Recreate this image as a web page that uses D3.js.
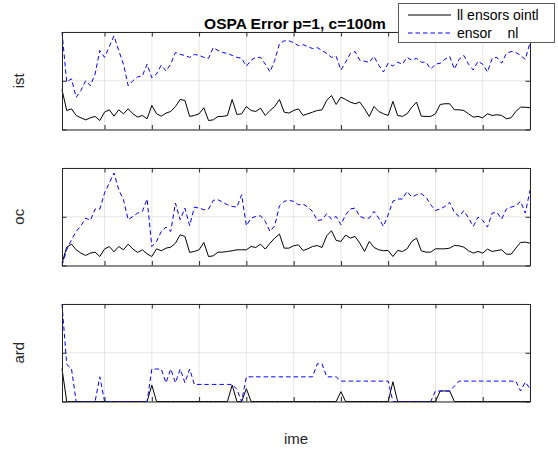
<!DOCTYPE html>
<html><head><meta charset="utf-8">
<script src="https://cdn.jsdelivr.net/npm/d3@7"></script>
<style>
html,body{margin:0;padding:0;background:#fff;}
text{font-family:"Liberation Sans",Arial,Helvetica,sans-serif;}
</style></head>
<body>
<svg id="chart" width="558" height="450"></svg>
<script>
const titleText = "OSPA Error p=1, c=100m";
const xLabel = "ime";
const panelLabels = ["ist", "oc", "ard"];
const seriesNames = ["ll ensors ointl", "ensor\u00a0\u00a0\u00a0\u00a0nl"];
const xTicks = [10, 20, 30, 40, 50, 60, 70, 80, 90, 100];
const yTicks = [0, 50, 100];
const timeSteps = d3.range(1, 101);

const distAll = [40.8,19.5,21.2,14.4,12.0,9.9,12.0,13.4,9.2,17.8,20.2,13.7,20.2,16.1,21.2,16.1,12.7,14.4,11.0,24.7,16.1,13.7,16.8,18.5,23.6,30.8,29.8,13.4,14.4,16.1,22.3,9.2,9.9,13.4,13.4,14.4,30.8,15.4,16.1,23.6,19.5,18.5,21.9,14.4,19.5,23.6,30.8,17.8,16.8,19.5,21.2,14.4,16.1,17.8,19.5,20.2,29.8,34.9,25.7,33.2,30.8,28.1,26.4,28.1,21.2,13.4,23.6,18.5,16.1,14.4,28.8,14.4,13.4,16.1,22.9,28.1,13.7,13.4,13.4,16.1,25.7,26.4,26.4,20.2,20.2,19.5,16.1,12.7,13.4,12.0,16.1,14.4,15.1,14.4,11.0,12.0,18.5,22.9,22.9,22.3];
const distOne = [100,48.6,52,33,40,50,45,57,81,74,85,96,81,67,45,50,54,55,67,53,57,66,60,67,79,77,76,74,77,76,74,73,84,81,79,78,76,74,73,65,71,74,74,67,59,71,88,91,91,89,86,87,85,83,84,81,78,74,75,61,69,78,80,71,70,69,75,66,59,68,65,69,67,74,71,73,69,69,62,67,68,72,75,62,72,76,67,61,70,67,59,73,74,68,78,80,79,76,72,89];
const locAll = [2.4,18.8,21.9,16.1,12.7,10.3,12.7,13.7,9.2,16.8,19.5,14.0,19.5,16.1,21.9,16.8,13.4,16.1,12.0,9.2,17.1,15.1,17.8,18.8,22.9,31.5,29.8,13.4,14.4,16.1,23.6,9.2,9.9,13.7,13.7,14.4,15.1,16.1,16.1,16.1,19.5,18.5,21.9,16.8,22.9,28.1,32.2,17.8,17.8,20.2,21.2,15.4,17.1,19.5,20.5,18.5,30.5,35.6,25.7,24.7,31.2,28.1,29.8,22.9,14.4,24.7,18.5,16.1,15.1,15.4,9.2,15.4,14.4,17.1,24.7,28.1,15.1,13.7,13.7,17.1,17.1,17.1,17.8,20.5,20.2,18.8,15.1,12.7,14.4,12.7,16.8,14.4,15.4,16.1,11.6,11.6,17.8,23.6,24.0,22.9];
const locOne = [0,16.1,26.4,34.9,40.8,48.6,46.2,57.9,57.9,74.3,84.6,94.9,77.7,67.5,46.9,50.3,53.8,55.5,68.2,19.5,24.7,34.9,39.4,34.9,64.0,46.9,58.9,40.8,59.9,58.9,57.2,57.9,66.8,67.5,64.7,62.3,60.6,59.9,72.6,40.8,48.6,50.3,51.0,45.2,34.9,40.8,61.3,65.8,66.8,65.8,62.3,63.0,59.9,55.5,46.2,46.9,53.1,47.6,50.3,41.8,52.1,57.9,58.9,50.3,48.6,48.6,55.5,48.6,40.1,52.1,65.8,68.2,68.2,76.0,70.2,72.6,73.6,70.2,62.3,56.5,57.9,60.6,64.7,54.5,50.3,56.2,48.6,40.1,49.7,46.2,39.4,53.8,54.5,47.6,57.9,59.9,61.3,65.8,53.8,77.1];
const cardAll = [33.7,0,0,0,0,0,0,0,0,0,0,0,0,0,0,0,0,0,0,16.8,0,0,0,0,0,0,0,0,0,0,0,0,0,0,0,0,16.8,0,0,13.1,0,0,0,0,0,0,0,0,0,0,0,0,0,0,0,0,0,0,0,10.1,0,0,0,0,0,0,0,0,0,0,20.2,0,0,0,0,0,0,0,0,0,10.8,10.8,10.8,0,0,0,0,0,0,0,0,0,0,0,0,0,0,0,0,0];
const cardOne = [100,38,33.7,0,0,0,0,0,25.3,0,0,0,0,0,0,0,0,0,0,33.3,33.3,33.3,19.2,33.3,19.2,33.3,19.2,33.3,17.5,17.5,17.5,17.5,17.5,17.5,17.5,17.5,17.5,12.5,0,25.3,25.3,25.3,25.3,25.3,25.3,25.3,25.3,25.3,25.3,25.3,25.3,25.3,25.3,25.3,38.7,38.7,25.3,25.3,25.3,20.9,20.9,20.9,20.9,20.9,20.9,20.9,20.9,20.9,20.9,20.9,0,0,0,0,0,0,0,0,0,10.8,10.8,10.8,10.8,15.8,20.9,20.9,20.9,20.9,20.9,20.9,20.9,20.9,20.9,20.9,20.9,20.9,20.9,10.8,19.9,13.1];

const panels = [
  {label: panelLabels[0], all: distAll, one: distOne, top: 32},
  {label: panelLabels[1], all: locAll, one: locOne, top: 168},
  {label: panelLabels[2], all: cardAll, one: cardOne, top: 304}
];

const svg = d3.select("#chart");
const left = 62, right = 530, ph = 97.5;
const axColor = "#262626";
const x = d3.scaleLinear().domain([1, 100]).range([left, right]);

panels.forEach(p => {
  const y = d3.scaleLinear().domain([0, 100]).range([p.top + ph, p.top]);
  const g = svg.append("g");
  g.append("g").selectAll("line").data(xTicks).join("line")
    .attr("x1", d => x(d)).attr("x2", d => x(d))
    .attr("y1", p.top).attr("y2", p.top + ph)
    .attr("stroke", "#e6e6e6").attr("stroke-width", 1);
  g.append("g").selectAll("line").data(yTicks).join("line")
    .attr("x1", left).attr("x2", right)
    .attr("y1", d => y(d)).attr("y2", d => y(d))
    .attr("stroke", "#e6e6e6").attr("stroke-width", 1);

  const line = d3.line().x((d, i) => x(timeSteps[i])).y(d => y(d));
  g.append("path").datum(p.all).attr("d", line)
    .attr("fill", "none").attr("stroke", "#000").attr("stroke-width", 1);
  g.append("path").datum(p.one).attr("d", line)
    .attr("fill", "none").attr("stroke", "#0000ff").attr("stroke-width", 1)
    .attr("stroke-dasharray", "4.5,3");

  const tl = 4.5;
  const axB = d3.axisBottom(x).tickValues(xTicks).tickSizeInner(-tl).tickSizeOuter(0).tickFormat("");
  const axT = d3.axisTop(x).tickValues(xTicks).tickSizeInner(-tl).tickSizeOuter(0).tickFormat("");
  const axL = d3.axisLeft(y).tickValues(yTicks).tickSizeInner(-tl).tickSizeOuter(0).tickFormat("");
  const axR = d3.axisRight(y).tickValues(yTicks).tickSizeInner(-tl).tickSizeOuter(0).tickFormat("");
  [[axB, `translate(0,${p.top + ph})`], [axT, `translate(0,${p.top})`],
   [axL, `translate(${left},0)`], [axR, `translate(${right},0)`]].forEach(([ax, tr]) => {
    const a = g.append("g").attr("transform", tr).call(ax);
    a.selectAll("path,line").attr("stroke", axColor).attr("stroke-width", 1);
  });

  svg.append("text")
    .attr("transform", `translate(24,${p.top + ph / 2}) rotate(-90)`)
    .attr("text-anchor", "middle").attr("font-size", 15).attr("fill", axColor)
    .text(p.label);
});

svg.append("text").attr("x", 295).attr("y", 29)
  .attr("text-anchor", "middle").attr("font-size", 15.5).attr("font-weight", "bold")
  .attr("fill", "#000").text(titleText);

svg.append("text").attr("x", (left + right) / 2).attr("y", 444)
  .attr("text-anchor", "middle").attr("font-size", 15).attr("fill", axColor)
  .text(xLabel);

const lg = svg.append("g");
lg.append("rect").attr("x", 398.5).attr("y", 3.5).attr("width", 156).attr("height", 39)
  .attr("fill", "#fff").attr("stroke", "#5a5a5a").attr("stroke-width", 1);
const styles = [{c: "#000", dash: null}, {c: "#0000ff", dash: "4.5,3"}];
seriesNames.forEach((n, i) => {
  const yy = 15 + i * 18;
  lg.append("line").attr("x1", 408).attr("x2", 451).attr("y1", yy).attr("y2", yy)
    .attr("stroke", styles[i].c).attr("stroke-width", 1)
    .attr("stroke-dasharray", styles[i].dash);
  lg.append("text").attr("x", 457).attr("y", yy + 5).attr("font-size", 14)
    .attr("fill", "#000").text(n);
});
</script>
</body></html>
